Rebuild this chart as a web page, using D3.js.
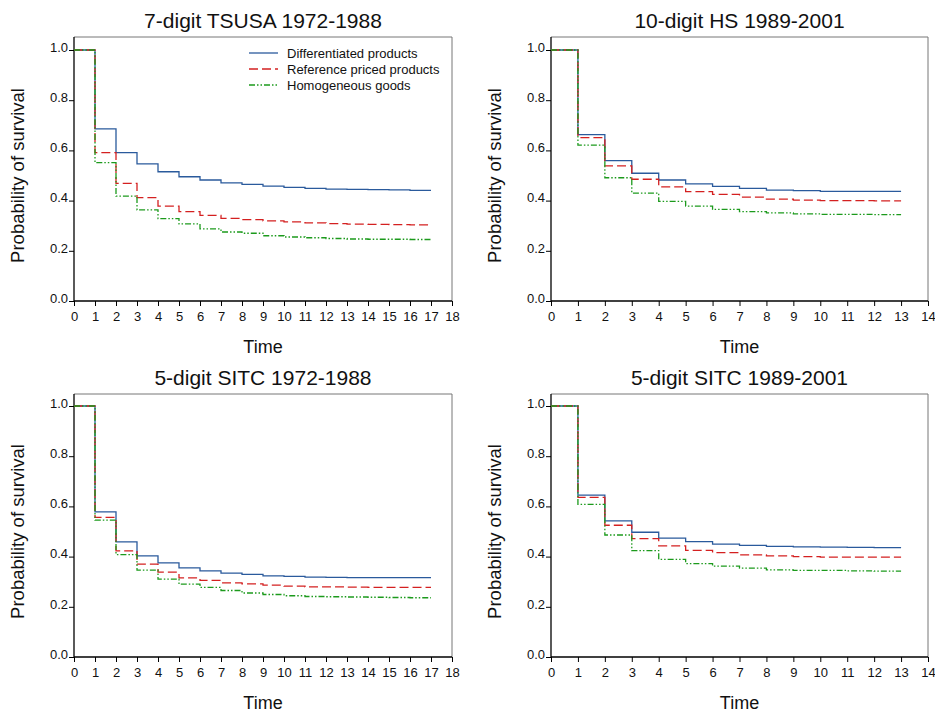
<!DOCTYPE html>
<html>
<head>
<meta charset="utf-8">
<script src="https://cdn.jsdelivr.net/npm/d3@7"></script>
<style>
  body { margin: 0; background: #fff; }
  svg text { font-family: "Liberation Sans", Arial, sans-serif; fill: #111; }
</style>
</head>
<body>
<svg id="chart" width="935" height="713"></svg>
<script>
// survival values per yearly interval [t, t+1)
const tsusaDiff = [1.0, 0.686, 0.591, 0.546, 0.515, 0.495, 0.482, 0.471, 0.465, 0.458, 0.453, 0.449, 0.446, 0.445, 0.444, 0.443, 0.441];
const tsusaRef  = [1.0, 0.591, 0.469, 0.412, 0.378, 0.356, 0.341, 0.329, 0.324, 0.319, 0.315, 0.311, 0.308, 0.306, 0.305, 0.304, 0.303];
const tsusaHom  = [1.0, 0.551, 0.418, 0.363, 0.328, 0.307, 0.287, 0.275, 0.270, 0.260, 0.255, 0.252, 0.249, 0.247, 0.246, 0.246, 0.245];

const hsDiff = [1.0, 0.663, 0.559, 0.509, 0.482, 0.467, 0.457, 0.449, 0.442, 0.440, 0.437, 0.437, 0.437];
const hsRef  = [1.0, 0.651, 0.538, 0.485, 0.455, 0.436, 0.425, 0.414, 0.406, 0.402, 0.400, 0.400, 0.399];
const hsHom  = [1.0, 0.621, 0.491, 0.430, 0.397, 0.378, 0.365, 0.356, 0.351, 0.347, 0.345, 0.345, 0.344];

const sitcOldDiff = [1.0, 0.578, 0.459, 0.403, 0.375, 0.355, 0.343, 0.334, 0.329, 0.323, 0.321, 0.318, 0.317, 0.316, 0.316, 0.316, 0.316];
const sitcOldRef  = [1.0, 0.556, 0.423, 0.370, 0.338, 0.315, 0.305, 0.295, 0.291, 0.286, 0.282, 0.279, 0.279, 0.278, 0.277, 0.277, 0.277];
const sitcOldHom  = [1.0, 0.545, 0.408, 0.346, 0.310, 0.290, 0.277, 0.265, 0.255, 0.249, 0.244, 0.241, 0.240, 0.239, 0.238, 0.237, 0.236];

const sitcNewDiff = [1.0, 0.645, 0.542, 0.497, 0.474, 0.460, 0.450, 0.445, 0.441, 0.439, 0.438, 0.437, 0.436];
const sitcNewRef  = [1.0, 0.636, 0.525, 0.472, 0.443, 0.425, 0.416, 0.407, 0.403, 0.400, 0.398, 0.398, 0.398];
const sitcNewHom  = [1.0, 0.608, 0.486, 0.424, 0.389, 0.372, 0.362, 0.354, 0.347, 0.345, 0.345, 0.343, 0.342];

const titles = ["7-digit TSUSA 1972-1988", "10-digit HS 1989-2001", "5-digit SITC 1972-1988", "5-digit SITC 1989-2001"];
const xMaxes = [18, 14, 18, 14];
const seriesNames = ["Differentiated products", "Reference priced products", "Homogeneous goods"];
const yTicks = [0, 0.2, 0.4, 0.6, 0.8, 1.0];

const panelData = [
  [tsusaDiff, tsusaRef, tsusaHom],
  [hsDiff, hsRef, hsHom],
  [sitcOldDiff, sitcOldRef, sitcOldHom],
  [sitcNewDiff, sitcNewRef, sitcNewHom]
];

// layout
const boxes = [
  {left: 74, right: 452, top: 37, y1: 50, y0: 301},
  {left: 551, right: 928, top: 37, y1: 50, y0: 301},
  {left: 74, right: 452, top: 394, y1: 406, y0: 657},
  {left: 551, right: 928, top: 394, y1: 406, y0: 657}
];
const styles = [
  {color: "#2a5a9c", dash: null},
  {color: "#d42020", dash: "9,4"},
  {color: "#1c9a1c", dash: "6,2,1.5,2,1.5,2"}
];

const svg = d3.select("#chart");

boxes.forEach(function(b, i) {
  let x = d3.scaleLinear().domain([0, xMaxes[i]]).range([b.left, b.right]);
  let y = d3.scaleLinear().domain([0, 1]).range([b.y0, b.y1]);
  let g = svg.append("g");

  // frame top/right
  g.append("path")
    .attr("d", `M${b.left},${b.top}H${b.right}V${b.y0}`)
    .attr("fill", "none")
    .attr("stroke", "#777")
    .attr("stroke-width", 1);

  // axes
  let xAxis = d3.axisBottom(x).ticks(xMaxes[i]).tickSize(5).tickSizeOuter(0).tickFormat(d3.format("d"));
  let gx = g.append("g").attr("transform", `translate(0,${b.y0})`).call(xAxis);
  gx.select(".domain").remove();
  gx.append("line").attr("x1", b.left).attr("x2", b.right).attr("stroke", "#000").attr("stroke-width", 1.3);
  gx.selectAll("text").style("font-size", "13px").attr("dy", "0.95em").attr("y", 8);

  let yAxis = d3.axisLeft(y).tickValues(yTicks).tickSize(5).tickFormat(d3.format(".1f"));
  let gy = g.append("g").attr("transform", `translate(${b.left},0)`).call(yAxis);
  gy.select(".domain").remove();
  gy.append("line").attr("y1", b.top).attr("y2", b.y0).attr("stroke", "#000").attr("stroke-width", 1.3);
  gy.selectAll("text").style("font-size", "13px").attr("x", -6).attr("dy", "0.1em");

  // titles
  let cx = (b.left + b.right) / 2;
  g.append("text").attr("x", cx).attr("y", b.top - 9)
    .attr("text-anchor", "middle").style("font-size", "21px").text(titles[i]);
  g.append("text").attr("x", cx).attr("y", b.y0 + 52)
    .attr("text-anchor", "middle").style("font-size", "18px").text("Time");
  g.append("text")
    .attr("transform", `translate(${b.left - 50},${(b.y1 + b.y0) / 2}) rotate(-90)`)
    .attr("text-anchor", "middle").style("font-size", "18.5px").text("Probability of survival");

  // step curves
  let line = d3.line()
    .x(d => x(d[0]))
    .y(d => y(d[1]))
    .curve(d3.curveStepAfter);

  panelData[i].forEach(function(vals, k) {
    let pts = vals.map((v, t) => [t, v]);
    pts.push([vals.length, vals[vals.length - 1]]);
    g.append("path")
      .datum(pts)
      .attr("d", line)
      .attr("fill", "none")
      .attr("stroke", styles[k].color)
      .attr("stroke-width", 1.3)
      .attr("stroke-dasharray", styles[k].dash);
  });

  // legend only in first panel
  if (i === 0) {
    let lg = g.append("g");
    seriesNames.forEach(function(name, k) {
      let ly = 53 + k * 16;
      lg.append("line").attr("x1", 249).attr("x2", 278).attr("y1", ly).attr("y2", ly)
        .attr("stroke", styles[k].color).attr("stroke-width", 1.3)
        .attr("stroke-dasharray", styles[k].dash);
      lg.append("text").attr("x", 287).attr("y", ly + 4.5)
        .style("font-size", "13px").text(name);
    });
  }
});
</script>
</body>
</html>
